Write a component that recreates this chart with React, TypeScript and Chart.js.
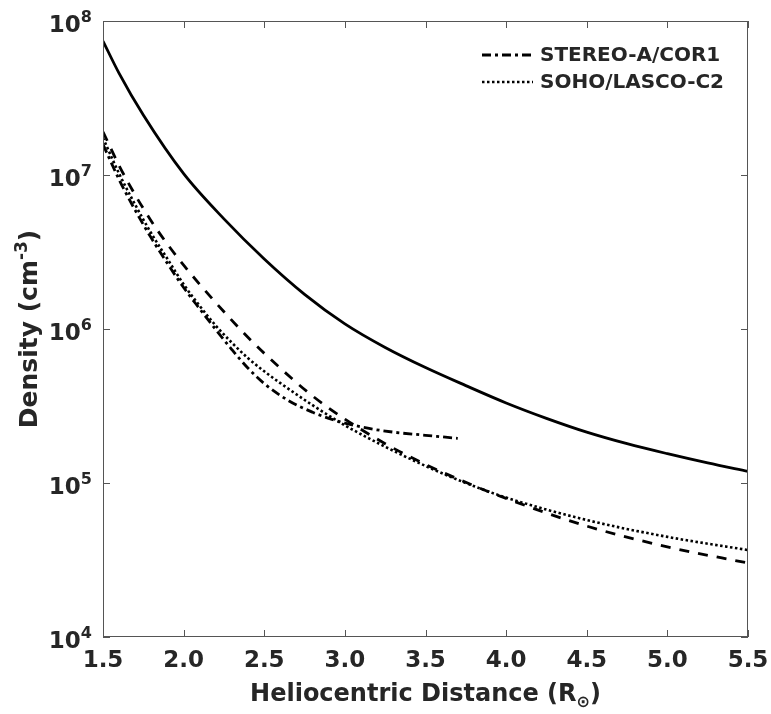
import React, { useEffect, useRef } from 'react';
import { Chart, registerables } from 'chart.js';

Chart.register(...registerables);

// ---- data ----
const modelX = [1.5, 1.6, 1.75, 2.0, 2.25, 2.5, 2.75, 3.0, 3.25, 3.5, 3.75, 4.0, 4.25, 4.5, 4.75, 5.0, 5.25, 5.5];
const modelDensity = [7.41e7, 4.57e7, 2.45e7, 1.02e7, 5.19e6, 2.85e6, 1.68e6, 1.08e6, 7.59e5, 5.62e5, 4.29e5, 3.31e5, 2.63e5, 2.14e5, 1.8e5, 1.55e5, 1.35e5, 1.19e5];

const fitX = [1.5, 1.6, 1.7, 1.8, 1.9, 2.0, 2.2, 2.4, 2.6, 2.8, 3.0, 3.25, 3.5, 3.75, 4.0, 4.5, 5.0, 5.5];
const fitDensity = [1.91e7, 1.15e7, 7.41e6, 5.01e6, 3.55e6, 2.6e6, 1.48e6, 8.81e5, 5.56e5, 3.67e5, 2.6e5, 1.8e5, 1.32e5, 1.01e5, 7.94e4, 5.25e4, 3.85e4, 3.02e4];

const cor1X = [1.5, 1.6, 1.7, 1.8, 1.9, 2.0, 2.1, 2.2, 2.3, 2.4, 2.5, 2.65, 2.8, 2.9, 3.0, 3.15, 3.3, 3.5, 3.7];
const cor1Density = [1.58e7, 9.33e6, 5.89e6, 3.89e6, 2.66e6, 1.86e6, 1.35e6, 9.89e5, 7.33e5, 5.56e5, 4.42e5, 3.43e5, 2.88e5, 2.63e5, 2.45e5, 2.26e5, 2.14e5, 2.04e5, 1.95e5];

const lascoX = [1.5, 1.6, 1.7, 1.8, 1.9, 2.0, 2.1, 2.2, 2.3, 2.4, 2.5, 2.6, 2.8, 3.0, 3.25, 3.5, 3.75, 4.0, 4.5, 5.0, 5.5];
const lascoDensity = [1.74e7, 1.02e7, 6.4e6, 4.17e6, 2.85e6, 1.95e6, 1.41e6, 1.05e6, 8.13e5, 6.46e5, 5.31e5, 4.45e5, 3.2e5, 2.37e5, 1.72e5, 1.29e5, 1.0e5, 8.04e4, 5.75e4, 4.47e4, 3.67e4];

const seriesLabels = ['', '', 'STEREO-A/COR1', 'SOHO/LASCO-C2'];
const xTickValues = [1.5, 2.0, 2.5, 3.0, 3.5, 4.0, 4.5, 5.0, 5.5];
const yTickValues = [1e4, 1e5, 1e6, 1e7, 1e8];
const xTitle = 'Heliocentric Distance (R';
const xTitleSub = '\u2299';
const yTitle = 'Density (cm';
const yTitleSup = '-3';

const FONT = '"DejaVu Sans", sans-serif';
const TEXT = '#262626';

const toPts = (xs: number[], ys: number[]) => xs.map((x, i) => ({ x, y: ys[i] }));

const decorPlugin = {
  id: 'decor',
  afterDraw(chart: any) {
    const { ctx, chartArea: a, scales } = chart;
    ctx.save();
    // frame
    ctx.strokeStyle = '#555555';
    ctx.lineWidth = 1;
    ctx.setLineDash([]);
    ctx.strokeRect(a.left + 0.5, a.top + 0.5, a.right - a.left - 1, a.bottom - a.top - 1);
    // inward ticks
    const L = 7;
    ctx.beginPath();
    for (const v of xTickValues) {
      const px = Math.round(scales.x.getPixelForValue(v)) + 0.5;
      ctx.moveTo(px, a.bottom); ctx.lineTo(px, a.bottom - L);
      ctx.moveTo(px, a.top); ctx.lineTo(px, a.top + L);
    }
    for (const v of yTickValues) {
      const py = Math.round(scales.y.getPixelForValue(v)) + 0.5;
      ctx.moveTo(a.left, py); ctx.lineTo(a.left + L, py);
      ctx.moveTo(a.right, py); ctx.lineTo(a.right - L, py);
    }
    ctx.stroke();

    ctx.fillStyle = TEXT;
    ctx.textBaseline = 'alphabetic';
    ctx.textAlign = 'left';

    // y tick labels: 10 with raised exponent
    const baseF = `bold 23px ${FONT}`;
    const expF = `bold 16px ${FONT}`;
    for (const v of yTickValues) {
      const py = scales.y.getPixelForValue(v);
      const e = String(Math.round(Math.log10(v)));
      ctx.font = expF;
      const ew = ctx.measureText(e).width;
      ctx.font = baseF;
      const bw = ctx.measureText('10').width;
      const right = a.left - 11;
      ctx.fillText('10', right - ew - bw, py + 11);
      ctx.font = expF;
      ctx.fillText(e, right - ew, py + 1);
    }

    // x title
    const mainF = `bold 24px ${FONT}`;
    const subF = `bold 16px ${FONT}`;
    ctx.font = mainF;
    const w1 = ctx.measureText(xTitle).width;
    ctx.font = subF;
    const w2 = ctx.measureText(xTitleSub).width;
    ctx.font = mainF;
    const w3 = ctx.measureText(')').width;
    const cx = (a.left + a.right) / 2;
    const x0 = cx - (w1 + w2 + w3) / 2;
    const by = 701;
    ctx.fillText(xTitle, x0, by);
    ctx.font = subF;
    ctx.fillText(xTitleSub, x0 + w1, by + 6);
    ctx.font = mainF;
    ctx.fillText(')', x0 + w1 + w2, by);

    // y title (rotated)
    const yMainF = `bold 25px ${FONT}`;
    const ySupF = `bold 17px ${FONT}`;
    ctx.save();
    const cy = (a.top + a.bottom) / 2;
    ctx.translate(37, cy);
    ctx.rotate(-Math.PI / 2);
    ctx.font = yMainF;
    const v1 = ctx.measureText(yTitle).width;
    ctx.font = ySupF;
    const v2 = ctx.measureText(yTitleSup).width;
    ctx.font = yMainF;
    const v3 = ctx.measureText(')').width;
    const y0 = -(v1 + v2 + v3) / 2;
    ctx.fillText(yTitle, y0, 0);
    ctx.font = ySupF;
    ctx.fillText(yTitleSup, y0 + v1, -10);
    ctx.font = yMainF;
    ctx.fillText(')', y0 + v1 + v2, 0);
    ctx.restore();

    // legend
    const lx0 = a.right - 266;
    const lx1 = a.right - 215;
    const tx = a.right - 208;
    let ly = a.top + 34;
    chart.data.datasets.forEach((ds: any) => {
      if (!ds.label) return;
      ctx.strokeStyle = '#000';
      ctx.lineWidth = ds.borderWidth;
      ctx.setLineDash(ds.borderDash || []);
      ctx.beginPath();
      ctx.moveTo(lx0, ly);
      ctx.lineTo(lx1, ly);
      ctx.stroke();
      ctx.setLineDash([]);
      ctx.font = `bold 20px ${FONT}`;
      ctx.textBaseline = 'middle';
      ctx.fillStyle = TEXT;
      ctx.fillText(ds.label, tx, ly + 1);
      ly += 27;
    });
    ctx.restore();
  },
};

export default function App() {
  const ref = useRef<HTMLCanvasElement | null>(null);
  useEffect(() => {
    document.body.style.margin = '0';
    const canvas = ref.current;
    if (!canvas) return;
    const common = { pointRadius: 0, fill: false, cubicInterpolationMode: 'monotone' as const, borderColor: '#000000' };
    const chart = new Chart(canvas, {
      type: 'line',
      data: {
        datasets: [
          { ...common, label: seriesLabels[0], data: toPts(modelX, modelDensity), borderWidth: 2.8 },
          { ...common, label: seriesLabels[1], data: toPts(fitX, fitDensity), borderWidth: 2.8, borderDash: [10, 9] },
          { ...common, label: seriesLabels[2], data: toPts(cor1X, cor1Density), borderWidth: 2.8, borderDash: [9, 4, 3, 4] },
          { ...common, label: seriesLabels[3], data: toPts(lascoX, lascoDensity), borderWidth: 2.6, borderDash: [2.5, 2.5] },
        ],
      },
      options: {
        animation: false,
        responsive: false,
        devicePixelRatio: 1,
        layout: { padding: { top: 21, right: 23, left: 0, bottom: 0 } },
        plugins: { legend: { display: false }, tooltip: { enabled: false } },
        scales: {
          x: {
            type: 'linear',
            min: 1.5,
            max: 5.5,
            afterBuildTicks: (s: any) => { s.ticks = xTickValues.map((v) => ({ value: v })); },
            ticks: {
              callback: (v: any) => Number(v).toFixed(1),
              font: { family: FONT, size: 23, weight: 'bold' },
              color: TEXT,
              padding: 10,
              maxRotation: 0,
              autoSkip: false,
            },
            grid: { display: false, drawTicks: false },
            border: { display: false },
            afterFit: (s: any) => { s.height = 77; s.paddingLeft = 0; s.paddingRight = 0; },
          },
          y: {
            type: 'logarithmic',
            min: 1e4,
            max: 1e8,
            afterBuildTicks: (s: any) => { s.ticks = yTickValues.map((v) => ({ value: v })); },
            ticks: { display: false },
            grid: { display: false, drawTicks: false },
            border: { display: false },
            afterFit: (s: any) => { s.width = 103; s.paddingTop = 0; s.paddingBottom = 0; },
          },
        },
      },
      plugins: [decorPlugin],
    });
    return () => chart.destroy();
  }, []);
  return <canvas ref={ref} width={771} height={714} style={{ display: 'block' }} />;
}
